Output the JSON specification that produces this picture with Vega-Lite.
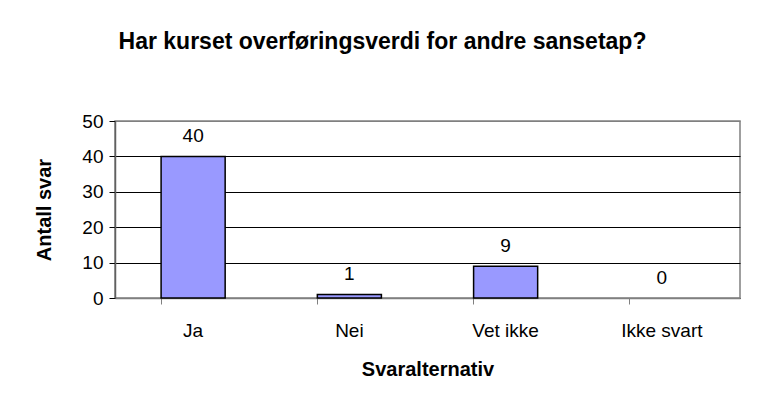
{
  "$schema": "https://vega.github.io/schema/vega-lite/v6.json",
  "width": 625,
  "height": 177,
  "autosize": "none",
  "padding": {"left": 115, "top": 121, "right": 24, "bottom": 111},
  "background": "white",
  "title": {
    "text": "Har kurset overføringsverdi for andre sansetap?",
    "font": "Liberation Sans",
    "fontSize": 23,
    "fontWeight": "bold",
    "color": "black",
    "anchor": "middle",
    "dx": -45,
    "offset": 58
  },
  "data": {
    "values": [
      {"svar": "Ja", "antall": 40},
      {"svar": "Nei", "antall": 1},
      {"svar": "Vet ikke", "antall": 9},
      {"svar": "Ikke svart", "antall": 0}
    ]
  },
  "encoding": {
    "x": {
      "field": "svar",
      "type": "nominal",
      "sort": null,
      "scale": {"paddingInner": 0.59, "paddingOuter": 0.295},
      "axis": {
        "title": "Svaralternativ",
        "labelAngle": 0,
        "bandPosition": 0,
        "tickSize": 6,
        "tickColor": "#808080",
        "domainColor": "#808080",
        "labelPadding": 17,
        "titlePadding": 19,
        "grid": false
      }
    },
    "y": {
      "field": "antall",
      "type": "quantitative",
      "scale": {"domain": [0, 50], "nice": false},
      "axis": {
        "title": "Antall svar",
        "values": [0, 10, 20, 30, 40, 50],
        "tickSize": 6,
        "tickColor": "black",
        "domainColor": "#606060",
        "labelPadding": 6,
        "titlePadding": 27,
        "grid": true,
        "gridColor": {"condition": {"test": "datum.value === 50", "value": "#808080"}, "value": "black"},
        "gridOpacity": 1
      }
    }
  },
  "layer": [
    {
      "transform": [{"filter": "datum.antall > 0"}],
      "mark": {"type": "bar", "color": "#9999FF", "stroke": "black", "strokeWidth": 1.5}
    },
    {
      "mark": {"type": "text", "baseline": "bottom", "dy": -10, "font": "Liberation Sans", "fontSize": 19, "color": "black"},
      "encoding": {"text": {"field": "antall", "type": "quantitative"}}
    }
  ],
  "config": {
    "view": {"stroke": "#808080", "strokeWidth": 1.5},
    "axis": {
      "labelFont": "Liberation Sans",
      "labelFontSize": 19,
      "labelColor": "black",
      "titleFont": "Liberation Sans",
      "titleFontSize": 20,
      "titleFontWeight": "bold",
      "titleColor": "black",
      "domainWidth": 1.5
    }
  }
}
